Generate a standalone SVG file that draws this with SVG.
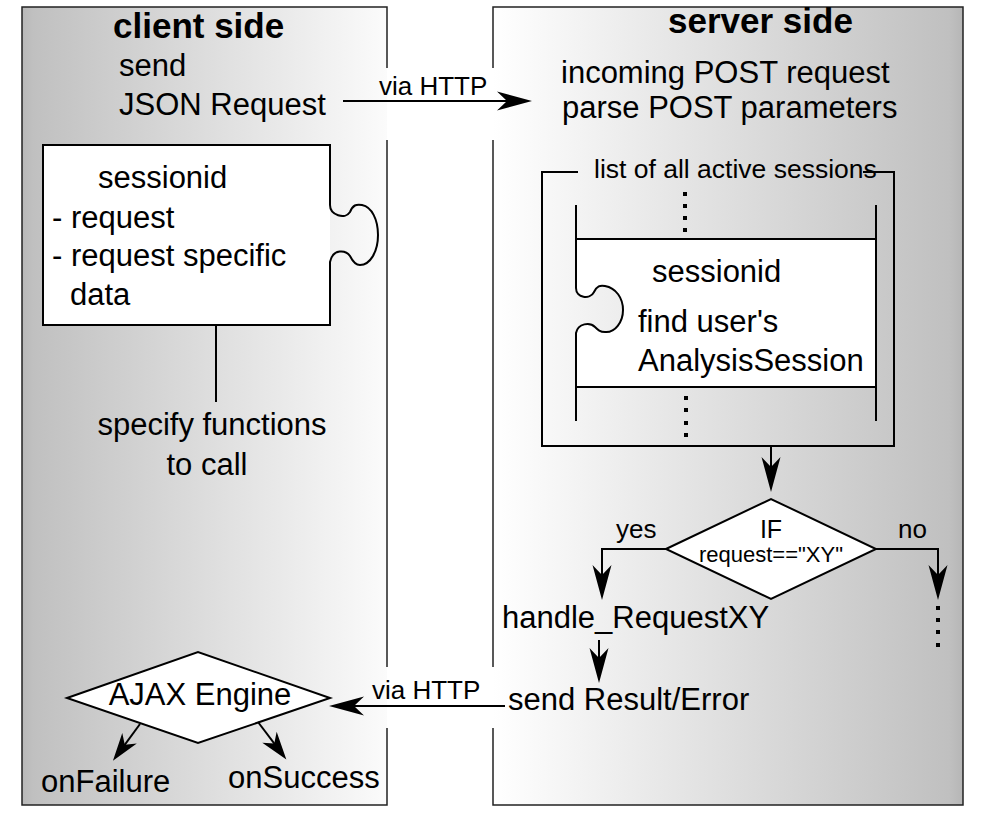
<svg xmlns="http://www.w3.org/2000/svg" width="985" height="822" viewBox="0 0 985 822">
<style>
text{font-family:"Liberation Sans",Arial,sans-serif;font-size:31px;fill:#000}
.b{font-weight:bold;font-size:35px}
.s{font-size:26px}
.xs{font-size:22px}
.m{text-anchor:middle}
.ln{fill:none;stroke:#000;stroke-width:2}
.bd{fill:none;stroke:#222;stroke-width:1.5}
.dot{fill:#000}
</style>
<defs>
<linearGradient id="gc" x1="0" y1="0" x2="1" y2="0">
<stop offset="0" stop-color="#b8b8b8"/>
<stop offset="0.03" stop-color="#c0c0c0"/>
<stop offset="1" stop-color="#fbfbfb"/>
</linearGradient>
<linearGradient id="gs" x1="0" y1="0" x2="1" y2="0">
<stop offset="0" stop-color="#ffffff"/>
<stop offset="0.97" stop-color="#c0c0c0"/>
<stop offset="1" stop-color="#b6b6b6"/>
</linearGradient>
<marker id="ah" markerUnits="userSpaceOnUse" viewBox="-16 -11 38 22" markerWidth="38" markerHeight="22" refX="0" refY="0" orient="auto">
<path d="M20,0 L-15,-9.5 L-5,0 L-15,9.5 Z" fill="#000"/>
</marker>
<marker id="as" markerUnits="userSpaceOnUse" viewBox="-12 -10 34 20" markerWidth="34" markerHeight="20" refX="0" refY="0" orient="auto">
<path d="M18,0 L-10,-9 L-2,0 L-10,9 Z" fill="#000"/>
</marker>
</defs>
<rect width="985" height="822" fill="#fff"/>

<g id="client-panel">
<rect x="22" y="7" width="365" height="798" fill="url(#gc)"/>
<path class="bd" d="M387,68 V7 H22 V805 H387 V728 M387,667 V140"/>
<text class="b" x="113" y="38">client side</text>
</g>

<g id="server-panel">
<rect x="493" y="7" width="470" height="798" fill="url(#gs)"/>
<path class="bd" d="M493,68 V7 H963 V805 H493 V728 M493,667 V140"/>
<text class="b" x="668" y="33">server side</text>
</g>

<g id="send-json">
<text x="119" y="76">send</text>
<text x="119" y="115">JSON Request</text>
</g>

<g id="client-puzzle">
<rect x="43" y="145" width="287" height="180" fill="#fff"/>
<path class="ln" d="M330,205 V145 H43 V325 H330 V262 C333,248 346,250 350,256 C352,260 355,265 360,265 C370,265 378,252 378,235 C378,220 372,207 362,205 C356,204 353,205 350,212 C345,220 330,215 330,205 Z"/>
<text x="98" y="188">sessionid</text>
<text x="52" y="228">- request</text>
<text x="52" y="266">- request specific</text>
<text x="70" y="305">data</text>
</g>

<g id="specify-functions">
<text class="m" x="212" y="435">specify functions</text>
<text class="m" x="207" y="475">to call</text>
</g>

<g id="ajax-engine">
<polygon points="67,698 198,652 330,698 198,743" fill="#fff" stroke="#000" stroke-width="2"/>
<text class="m" x="200" y="705">AJAX Engine</text>
</g>

<g id="on-failure"><text x="41" y="792">onFailure</text></g>
<g id="on-success"><text x="228" y="788">onSuccess</text></g>

<g id="incoming">
<text x="561" y="83">incoming POST request</text>
<text x="562" y="118">parse POST parameters</text>
</g>

<g id="session-list">
<path class="ln" d="M578,172 H542 V446 H894 V172 H863"/>
<text x="594" y="178" style="font-size:26.5px">list of all active sessions</text>
<path d="M576,239 H876 V387 H576 V333 C578,323 590,322 595,327 C598,330 600,332 605,332 C615,333 623,322 623,310 C623,298 616,288 605,286 C600,285 597,286 594,292 C590,300 576,298 576,288 Z" fill="#fff"/>
<path class="ln" d="M576,205 V288 C576,298 590,300 594,292 C597,286 600,285 605,286 C616,288 623,298 623,310 C623,322 615,333 605,332 C600,332 598,330 595,327 C590,322 578,323 576,333 V421"/>
<path class="ln" d="M876,205 V421 M576,239 H876 M576,387 H876"/>
<rect class="dot" x="683" y="192" width="4" height="4"/>
<rect class="dot" x="683" y="204" width="4" height="4"/>
<rect class="dot" x="683" y="216" width="4" height="4"/>
<rect class="dot" x="683" y="228" width="4" height="4"/>
<rect class="dot" x="684" y="396" width="4" height="4"/>
<rect class="dot" x="684" y="408" width="4" height="4"/>
<rect class="dot" x="684" y="421" width="4" height="4"/>
<rect class="dot" x="684" y="433" width="4" height="4"/>
<text x="652" y="282">sessionid</text>
<text x="638" y="332">find user's</text>
<text x="638" y="371">AnalysisSession</text>
</g>

<g id="if-decision">
<polygon points="666,549 771,499 876,549 771,599" fill="#fff" stroke="#000" stroke-width="2"/>
<text class="m" x="771" y="538" style="font-size:25px">IF</text>
<text class="m xs" x="771" y="562">request=="XY"</text>
</g>

<g id="handle-request"><text x="502" y="628">handle_RequestXY</text></g>
<g id="send-result"><text x="508" y="710">send Result/Error</text></g>

<g id="no-continue">
<rect class="dot" x="936" y="606" width="4" height="4"/>
<rect class="dot" x="936" y="618" width="4" height="4"/>
<rect class="dot" x="936" y="630" width="4" height="4"/>
<rect class="dot" x="936" y="643" width="4" height="4"/>
</g>

<g id="connectors">
<line class="ln" x1="343" y1="101" x2="512" y2="101" marker-end="url(#ah)"/>
<text class="s" x="379" y="95">via HTTP</text>
<line class="ln" x1="216" y1="325" x2="216" y2="402"/>
<line class="ln" x1="771" y1="446" x2="771" y2="472" marker-end="url(#ah)"/>
<path class="ln" d="M666,549 H602 V580" marker-end="url(#ah)"/>
<text class="s" x="616" y="538">yes</text>
<path class="ln" d="M876,549 H938 V580" marker-end="url(#ah)"/>
<text class="s" x="898" y="538">no</text>
<line class="ln" x1="599" y1="640" x2="599" y2="663" marker-end="url(#ah)"/>
<line class="ln" x1="505" y1="706" x2="349" y2="706" marker-end="url(#ah)"/>
<text class="s" x="372" y="699">via HTTP</text>
<line class="ln" x1="140" y1="724" x2="123.6" y2="746.3" marker-end="url(#as)"/>
<line class="ln" x1="258" y1="722" x2="275.5" y2="745.2" marker-end="url(#as)"/>
</g>
</svg>
